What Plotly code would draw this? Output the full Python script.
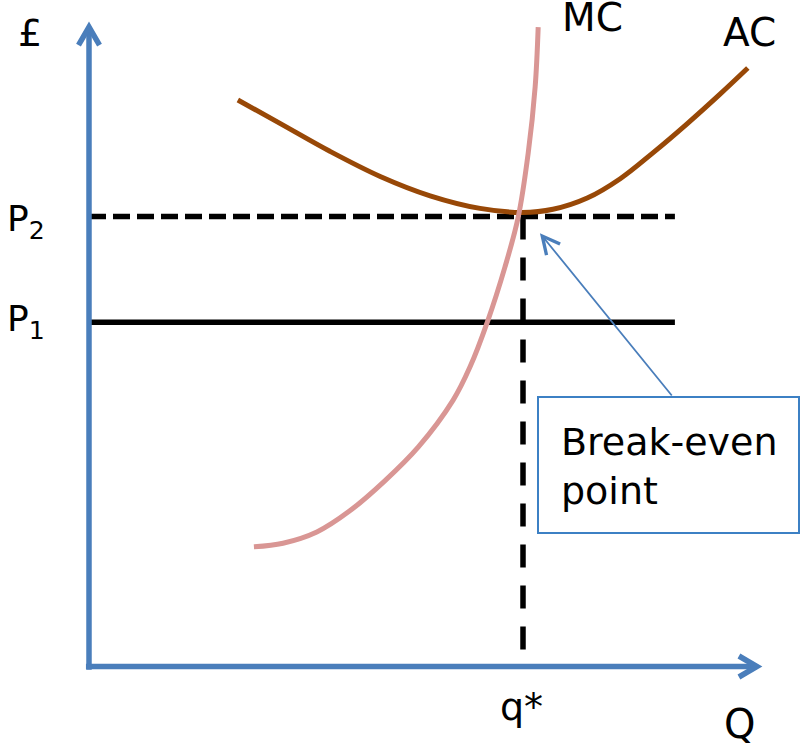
import plotly.graph_objects as go

# ---------------- data (schematic cost curves) ----------------
ac_q = [3.43, 4.40, 5.55, 6.71, 7.86, 9.01, 9.98, 10.69, 11.48, 12.24, 13.00, 13.78, 14.54, 15.18]
ac_p = [12.59, 12.07, 11.45, 10.89, 10.46, 10.18, 10.09, 10.16, 10.41, 10.84, 11.42, 12.06, 12.72, 13.30]

mc_q = [3.80, 4.47, 5.25, 6.01, 6.81, 7.59, 8.39, 8.78, 9.18, 9.585, 9.89, 10.12, 10.28, 10.35]
mc_p = [2.66, 2.74, 2.99, 3.46, 4.12, 4.88, 5.92, 6.66, 7.66, 8.88, 9.99, 11.41, 12.88, 14.21]

p1 = 7.65
p2 = 10.0
q_star = 10.0
price_line_end = 13.5
q_axis_end = 15.39
p_axis_end = 14.21

# ---------------- pixel <-> data helpers (layout only) ----------------
W, H = 801, 745
X0, KX = 89.0, 43.4     # px of Q=0, px per Q unit
Y0, KY = 666.5, 45.0    # px of P=0, px per P unit


def qx(px):
    return (px - X0) / KX


def py_(py):
    return (Y0 - py) / KY


AXIS_BLUE = "#4a7ebb"
AC_BROWN = "#984807"
MC_PINK = "#d99694"
BOX_BLUE = "#3c80c4"
FONT = "DejaVu Sans"

fig = go.Figure()

# price lines
fig.add_trace(go.Scatter(x=[0, price_line_end], y=[p2, p2], mode="lines",
                         line=dict(color="black", width=5.5, dash="17px,7px")))
fig.add_trace(go.Scatter(x=[0, price_line_end], y=[p1, p1], mode="lines",
                         line=dict(color="black", width=5.5)))
fig.add_trace(go.Scatter(x=[q_star, q_star], y=[p2, 0], mode="lines",
                         line=dict(color="black", width=5.5, dash="23px,18px")))

# cost curves
fig.add_trace(go.Scatter(x=ac_q, y=ac_p, mode="lines", line_shape="spline",
                         line=dict(color=AC_BROWN, width=5)))
fig.add_trace(go.Scatter(x=mc_q, y=mc_p, mode="lines", line_shape="spline",
                         line=dict(color=MC_PINK, width=5)))

# axes
ax_w = 5.5
fig.add_trace(go.Scatter(x=[0, 0], y=[-0.07, p_axis_end], mode="lines",
                         line=dict(color=AXIS_BLUE, width=ax_w)))
fig.add_trace(go.Scatter(x=[-0.07, q_axis_end], y=[0, 0], mode="lines",
                         line=dict(color=AXIS_BLUE, width=ax_w)))
# arrow heads (chevrons), sized in pixels
back, half = 18.0, 10.5
fig.add_trace(go.Scatter(x=[-half / KX, 0, half / KX],
                         y=[p_axis_end - back / KY, p_axis_end, p_axis_end - back / KY],
                         mode="lines", line=dict(color=AXIS_BLUE, width=ax_w)))
fig.add_trace(go.Scatter(x=[q_axis_end - back / KX, q_axis_end, q_axis_end - back / KX],
                         y=[half / KY, 0, -half / KY],
                         mode="lines", line=dict(color=AXIS_BLUE, width=ax_w)))

# break-even callout box
fig.add_shape(type="rect", x0=qx(538), x1=qx(799), y0=py_(533), y1=py_(397),
              line=dict(color=BOX_BLUE, width=2), fillcolor="white", layer="above")

txt = dict(family=FONT, color="black")
annotations = [
    dict(x=q_star + 0.39, y=p2 - 0.37, ax=qx(673), ay=py_(397), axref="x", ayref="y",
         text="", showarrow=True, arrowhead=5, arrowsize=1.9, arrowwidth=1.8,
         arrowcolor=AXIS_BLUE, standoff=0, startstandoff=0),
    dict(x=qx(559), y=py_(466), text="Break-even<br>point", showarrow=False,
         xanchor="left", yanchor="middle", align="left", font=dict(txt, size=38)),
    dict(x=qx(29.5), y=py_(32.5), text="£", showarrow=False, font=dict(txt, size=38)),
    dict(x=qx(5), y=py_(221), text="P<sub>2</sub>", showarrow=False,
         xanchor="left", font=dict(txt, size=36)),
    dict(x=qx(5), y=py_(321), text="P<sub>1</sub>", showarrow=False,
         xanchor="left", font=dict(txt, size=36)),
    dict(x=qx(592), y=py_(17.5), text="MC", showarrow=False, font=dict(txt, size=39)),
    dict(x=qx(749), y=py_(32.5), text="AC", showarrow=False, font=dict(txt, size=39)),
    dict(x=qx(521.5), y=py_(707), text="q*", showarrow=False, font=dict(txt, size=38)),
    dict(x=qx(739), y=py_(724), text="Q", showarrow=False, font=dict(txt, size=40)),
]

fig.update_layout(
    width=W, height=H, autosize=False,
    margin=dict(l=0, r=0, t=0, b=0, pad=0),
    paper_bgcolor="white", plot_bgcolor="white",
    showlegend=False, hovermode=False,
    xaxis=dict(range=[qx(0), qx(W)], visible=False, fixedrange=True),
    yaxis=dict(range=[py_(H), py_(0)], visible=False, fixedrange=True),
    annotations=annotations,
)

fig.write_html("out.html", config={"displayModeBar": False},
               post_script="document.body.style.margin='0px';")
